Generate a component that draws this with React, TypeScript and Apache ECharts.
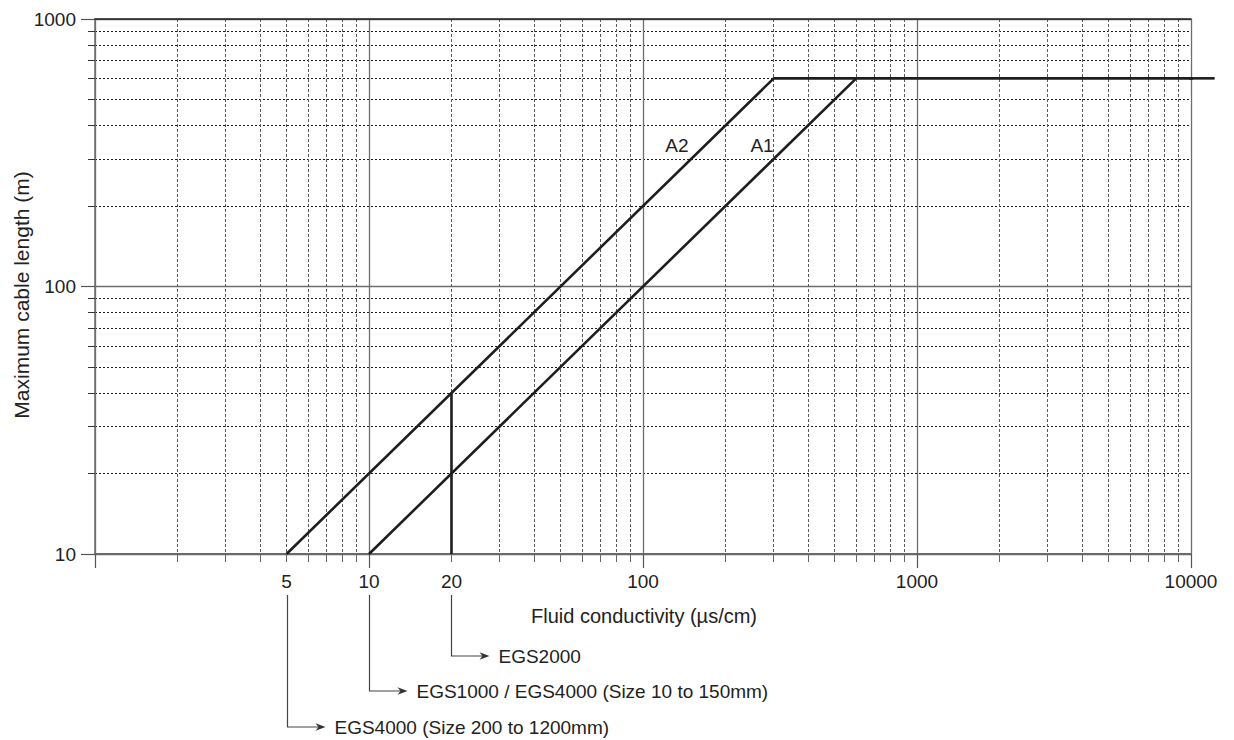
import React, { useEffect, useRef } from "react";
import * as echarts from "echarts";

// ---- Axis ranges and tick values ----
const xMin = 1;
const xMax = 10000;
const yMin = 10;
const yMax = 1000;
const xMajorTicks = [1, 10, 100, 1000, 10000];
const xMinorTicks = [
  2, 3, 4, 5, 6, 7, 8, 9,
  20, 30, 40, 50, 60, 70, 80, 90,
  200, 300, 400, 500, 600, 700, 800, 900,
  2000, 3000, 4000, 5000, 6000, 7000, 8000, 9000,
];
const xTickLabels = [5, 10, 20, 100, 1000, 10000];
const yMajorTicks = [10, 100, 1000];
const yMinorTicks = [20, 30, 40, 50, 60, 70, 80, 90, 200, 300, 400, 500, 600, 700, 800, 900];
const yTickLabels = [10, 100, 1000];

// ---- Series ----
const seriesA1: [number, number][] = [[10, 10], [600, 600], [12200, 600]];
const seriesA2: [number, number][] = [[5, 10], [300, 600], [600, 600]];
const seriesEGS2000: [number, number][] = [[20, 10], [20, 40]];

// ---- Labels ----
const curveLabels = ["A2", "A1"];
const curveLabelAt: [number, number][] = [[133, 338], [272, 338]];
const annotationX = [20, 10, 5];
const annotationText = [
  "EGS2000",
  "EGS1000 / EGS4000 (Size 10 to 150mm)",
  "EGS4000 (Size 200 to 1200mm)",
];
const xTitle = "Fluid conductivity (µs/cm)";
const yTitle = "Maximum cable length (m)";

const FONT = "'Liberation Sans', Arial, Helvetica, sans-serif";
const TEXT = "#222";
const LINE_COLOR = "#1e1e1e";
const LINE_WIDTH = 2.6;

export default function App() {
  const ref = useRef<HTMLDivElement>(null);

  useEffect(() => {
    if (!ref.current) return;
    const chart = echarts.init(ref.current, undefined, { renderer: "svg" });

    const logX = { type: "log", logBase: 10, min: xMin, max: xMax, gridIndex: 0 };
    const logY = { type: "log", logBase: 10, min: yMin, max: yMax, gridIndex: 0 };
    const lineStyle = { color: LINE_COLOR, width: LINE_WIDTH };

    const option: any = {
      animation: false,
      backgroundColor: "#ffffff",
      grid: { left: 95, top: 19, width: 1096, height: 535 },
      xAxis: [
        {
          ...logX,
          position: "bottom",
          axisLine: { show: true, lineStyle: { color: "#6a6a6a", width: 2 } },
          axisTick: { show: true, customValues: xMajorTicks, length: 14, lineStyle: { color: "#555", width: 1.2 } },
          axisLabel: {
            show: true,
            customValues: xTickLabels,
            margin: 18,
            fontSize: 19,
            fontFamily: FONT,
            color: TEXT,
            formatter: (v: number) => String(Math.round(v)),
          },
          splitLine: { show: true, lineStyle: { color: "#6e6e6e", width: 1.3 } },
        },
        {
          ...logX,
          position: "bottom",
          axisLine: { show: false },
          axisTick: { show: true, customValues: xMinorTicks, length: 8, lineStyle: { color: "#666", width: 1 } },
          axisLabel: { show: false },
          splitLine: { show: true, lineStyle: { color: "#5a5a5a", width: 1, type: [3, 2] } },
        },
        {
          ...logX,
          position: "top",
          axisLine: { show: true, lineStyle: { color: "#222", width: 1.6 } },
          axisTick: { show: false },
          axisLabel: { show: false },
          splitLine: { show: false },
        },
      ],
      yAxis: [
        {
          ...logY,
          position: "left",
          axisLine: { show: true, lineStyle: { color: "#6e6e6e", width: 1.5 } },
          axisTick: { show: true, customValues: yMajorTicks, length: 14, lineStyle: { color: "#555", width: 1.2 } },
          axisLabel: {
            show: true,
            customValues: yTickLabels,
            margin: 19,
            fontSize: 19,
            fontFamily: FONT,
            color: TEXT,
            formatter: (v: number) => String(Math.round(v)),
          },
          splitLine: { show: true, lineStyle: { color: "#6e6e6e", width: 1.3 } },
        },
        {
          ...logY,
          position: "left",
          axisLine: { show: false },
          axisTick: { show: true, customValues: yMinorTicks, length: 7, lineStyle: { color: "#333", width: 1 } },
          axisLabel: { show: false },
          splitLine: { show: true, lineStyle: { color: "#1a1a1a", width: 1, type: [2, 2] } },
        },
      ],
      series: [
        { type: "line", name: "A1", data: seriesA1, xAxisIndex: 0, yAxisIndex: 0, symbol: "none", clip: false, silent: true, lineStyle, z: 5 },
        { type: "line", name: "A2", data: seriesA2, xAxisIndex: 0, yAxisIndex: 0, symbol: "none", clip: false, silent: true, lineStyle, z: 5 },
        { type: "line", name: "EGS2000", data: seriesEGS2000, xAxisIndex: 0, yAxisIndex: 0, symbol: "none", clip: false, silent: true, lineStyle, z: 5 },
      ],
    };
    chart.setOption(option);

    // Graphic overlays positioned through the axes' own scales
    const toPx = (x: number, y: number) =>
      chart.convertToPixel({ xAxisIndex: 0, yAxisIndex: 0 }, [x, y]) as number[];

    const elements: any[] = [];

    // Extension of the A1 plateau beyond the axis end (the chart draws it past the frame)
    const last = seriesA1[seriesA1.length - 1];
    const pMax = toPx(xMax, last[1]);
    const pDec = toPx(xMax / 10, last[1]);
    let pEnd = toPx(last[0], last[1]);
    if (!pEnd || Math.abs(pEnd[0] - pMax[0]) < 1) {
      const decadePx = pMax[0] - pDec[0];
      pEnd = [pMax[0] + decadePx * Math.log10(last[0] / xMax), pMax[1]];
    }
    elements.push({
      type: "line",
      silent: true,
      z: 10,
      shape: { x1: pMax[0] - 2, y1: pMax[1], x2: pEnd[0], y2: pEnd[1] },
      style: { stroke: LINE_COLOR, lineWidth: LINE_WIDTH },
    });

    curveLabels.forEach((t, i) => {
      const p = toPx(curveLabelAt[i][0], curveLabelAt[i][1]);
      elements.push({
        type: "text",
        x: p[0],
        y: p[1],
        silent: true,
        style: { text: t, fontSize: 19, fontFamily: FONT, fill: TEXT, align: "center", verticalAlign: "middle" },
      });
    });

    const annotY = [656, 691, 727];
    const lineTop = 595;
    const armLen = 38;
    annotationX.forEach((xv, i) => {
      const px = Math.round(toPx(xv, yMin)[0]) + 0.5;
      const y = annotY[i];
      const tip = px + armLen;
      elements.push({
        type: "polyline",
        silent: true,
        shape: { points: [[px, lineTop], [px, y], [tip - 4, y]] },
        style: { stroke: "#444", lineWidth: 1.2, fill: null },
      });
      elements.push({
        type: "polygon",
        silent: true,
        shape: { points: [[tip, y], [tip - 10, y - 3.8], [tip - 7, y], [tip - 10, y + 3.8]] },
        style: { fill: "#333" },
      });
      elements.push({
        type: "text",
        silent: true,
        x: tip + 9,
        y: y,
        style: { text: annotationText[i], fontSize: 19, fontFamily: FONT, fill: TEXT, align: "left", verticalAlign: "middle" },
      });
    });

    // Axis titles
    const cx = (toPx(xMin, yMin)[0] + toPx(xMax, yMin)[0]) / 2;
    elements.push({
      type: "text",
      silent: true,
      x: cx + 1,
      y: 616,
      style: { text: xTitle, fontSize: 20, fontFamily: FONT, fill: TEXT, align: "center", verticalAlign: "middle" },
    });
    elements.push({
      type: "text",
      silent: true,
      x: 21,
      y: 295,
      rotation: Math.PI / 2,
      style: { text: yTitle, fontSize: 21, fontFamily: FONT, fill: TEXT, align: "center", verticalAlign: "middle" },
    });

    chart.setOption({ graphic: { elements } });

    return () => chart.dispose();
  }, []);

  return (
    <div
      ref={ref}
      style={{ position: "fixed", left: 0, top: 0, width: 1234, height: 740, background: "#fff" }}
    />
  );
}
